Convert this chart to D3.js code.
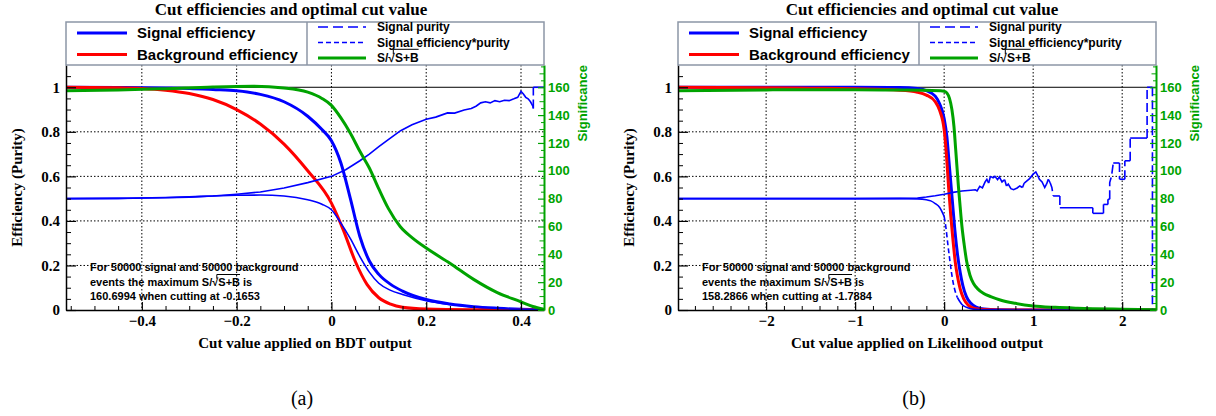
<!DOCTYPE html>
<html>
<head>
<meta charset="utf-8">
<script src="https://cdn.jsdelivr.net/npm/d3@7"></script>
<style>
  body { margin: 0; background: #fff; }
  svg { display: block; }
</style>
</head>
<body>
<svg id="chart" width="1216" height="416"></svg>
<script>
// tick values
var bdtTicks = [-0.4, -0.2, 0, 0.2, 0.4];
var likTicks = [-2, -1, 0, 1, 2];
var effTicks = [0, 0.2, 0.4, 0.6, 0.8, 1];
var sigTicks = [0, 20, 40, 60, 80, 100, 120, 140, 160];

var legendLeft = ["Signal efficiency", "Background efficiency"];
var legendRight = ["Signal purity", "Signal efficiency*purity", "S/\u221AS+B"];

// ---- BDT panel (a) ----
var bdtSigEff = [[-0.56,1],[-0.45,0.999],[-0.35,0.997],[-0.3,0.995],[-0.25,0.99],[-0.2,0.984],[-0.15,0.968],[-0.1,0.935],[-0.05,0.87],[-0.02,0.81],[0,0.76],[0.02,0.66],[0.04,0.5],[0.06,0.33],[0.08,0.22],[0.1,0.16],[0.125,0.115],[0.15,0.085],[0.2,0.047],[0.25,0.027],[0.3,0.015],[0.35,0.008],[0.4,0.003],[0.4485,0.001]];
var bdtBkgEff = [[-0.56,1],[-0.45,0.998],[-0.4,0.995],[-0.35,0.987],[-0.3,0.972],[-0.25,0.945],[-0.2,0.9],[-0.15,0.835],[-0.1,0.745],[-0.05,0.625],[0,0.48],[0.025,0.36],[0.05,0.22],[0.075,0.115],[0.1,0.055],[0.125,0.026],[0.15,0.012],[0.2,0.004],[0.3,0.001],[0.4485,0]];
var bdtPurity = [[-0.56,0.5],[-0.45,0.501],[-0.35,0.504],[-0.3,0.507],[-0.25,0.512],[-0.2,0.52],[-0.15,0.53],[-0.1,0.548],[-0.05,0.572],[0,0.6],[0.03,0.63],[0.06,0.67],[0.08,0.7],[0.1,0.733],[0.12,0.765],[0.146,0.805],[0.17,0.832],[0.2,0.856],[0.22,0.866],[0.245,0.885],[0.26,0.884],[0.28,0.898],[0.295,0.905],[0.305,0.915],[0.315,0.93],[0.325,0.935],[0.335,0.93],[0.345,0.94],[0.355,0.935],[0.365,0.942],[0.375,0.94],[0.385,0.948],[0.393,0.955],[0.4,0.982],[0.405,0.97],[0.41,0.955],[0.415,0.948],[0.42,0.935],[0.425,0.915],[0.426,0.905],[0.426,1],[0.4485,1]];
var bdtEffPur = [[-0.56,0.5],[-0.45,0.501],[-0.35,0.505],[-0.3,0.508],[-0.25,0.512],[-0.2,0.515],[-0.15,0.516],[-0.1,0.512],[-0.05,0.495],[-0.02,0.475],[0,0.45],[0.02,0.39],[0.04,0.32],[0.06,0.24],[0.08,0.17],[0.1,0.12],[0.125,0.088],[0.15,0.07],[0.2,0.042],[0.25,0.025],[0.3,0.014],[0.35,0.007],[0.4,0.003],[0.4485,0.001]];
var bdtSignif = [[-0.56,157.5],[-0.45,158],[-0.35,159],[-0.25,160.2],[-0.165,160.7],[-0.1,159.5],[-0.05,156.5],[-0.02,152],[0,147],[0.02,138],[0.04,127],[0.06,114],[0.08,102],[0.1,87],[0.12,73],[0.145,60],[0.17,52],[0.2,44.5],[0.25,33.6],[0.3,22],[0.35,12.5],[0.4,5.9],[0.425,2.5],[0.4485,0.5]];
var bdtNote = ["For 50000 signal and 50000 background", "events the maximum S/\u221AS+B is", "160.6994 when cutting at -0.1653"];

// ---- Likelihood panel (b) ----
var likSigEff = [[-2.99,1],[-1,1],[-0.5,0.999],[-0.3,0.995],[-0.2,0.985],[-0.1,0.96],[-0.05,0.925],[0,0.86],[0.03,0.78],[0.06,0.64],[0.09,0.5],[0.12,0.36],[0.15,0.25],[0.18,0.17],[0.21,0.11],[0.25,0.06],[0.3,0.03],[0.36,0.013],[0.45,0.004],[0.6,0.001],[1,0],[2.38,0]];
var likBkgEff = [[-2.99,1],[-2,0.998],[-1.5,0.996],[-1,0.993],[-0.5,0.987],[-0.3,0.978],[-0.2,0.965],[-0.1,0.935],[-0.05,0.895],[0,0.81],[0.025,0.7],[0.05,0.55],[0.075,0.42],[0.1,0.31],[0.125,0.215],[0.15,0.15],[0.18,0.095],[0.22,0.05],[0.27,0.022],[0.33,0.008],[0.4,0.003],[0.5,0.001],[0.7,0],[2.38,0]];
var likPurity = [[-2.99,0.5],[-1,0.5],[-0.5,0.501],[-0.3,0.503],[-0.2,0.507],[-0.1,0.513],[0,0.52],[0.1,0.528],[0.2,0.534],[0.3,0.538],[0.35,0.54],[0.37,0.535],[0.4,0.555],[0.43,0.548],[0.46,0.575],[0.48,0.587],[0.5,0.57],[0.52,0.6],[0.55,0.594],[0.57,0.6],[0.6,0.585],[0.62,0.598],[0.65,0.575],[0.68,0.585],[0.7,0.557],[0.72,0.565],[0.75,0.545],[0.78,0.54],[0.82,0.548],[0.85,0.557],[0.88,0.55],[0.9,0.57],[0.93,0.58],[0.96,0.59],[1,0.61],[1.03,0.62],[1.05,0.605],[1.07,0.587],[1.1,0.575],[1.13,0.55],[1.15,0.565],[1.17,0.587],[1.19,0.572],[1.21,0.55],[1.225,0.512],[1.3,0.512],[1.3,0.459],[1.67,0.459],[1.67,0.434],[1.79,0.434],[1.79,0.474],[1.84,0.474],[1.84,0.497],[1.86,0.497],[1.86,0.572],[1.88,0.6],[1.9,0.66],[1.97,0.66],[1.97,0.587],[2.03,0.587],[2.03,0.67],[2.09,0.67],[2.09,0.772],[2.28,0.772],[2.28,1],[2.34,1],[2.34,0],[2.38,0]];
var likEffPur = [[-2.99,0.5],[-1,0.5],[-0.5,0.5],[-0.3,0.499],[-0.2,0.495],[-0.15,0.49],[-0.1,0.478],[-0.05,0.46],[0,0.42],[0.02,0.37],[0.04,0.3],[0.06,0.235],[0.08,0.175],[0.1,0.125],[0.12,0.09],[0.15,0.055],[0.2,0.025],[0.25,0.012],[0.3,0.006],[0.4,0.002],[0.6,0.0005],[1,0],[2.38,0]];
var likSignif = [[-2.99,157.5],[-2,158.1],[-1.79,158.3],[-1,158.2],[-0.5,158],[-0.2,157.8],[0,157.2],[0.03,156],[0.06,152],[0.087,144],[0.11,132],[0.13,115],[0.16,89],[0.18,74],[0.2,60],[0.225,47],[0.25,36],[0.29,25],[0.33,19],[0.38,15],[0.44,12],[0.53,9.5],[0.63,7.2],[0.8,4.8],[1,2.9],[1.25,1.9],[1.5,1.3],[2,0.6],[2.38,0.2]];
var likNote = ["For 50000 signal and 50000 background", "events the maximum S/\u221AS+B is", "158.2866 when cutting at -1.7884"];


var svg = d3.select("#chart");

var PW = 478, PH = 245, PT = 65, PL = 66;
var blue = "#0000ff", red = "#ff0000", green = "#00a300";
var serif = '"Liberation Serif","Times New Roman",serif';
var sans = '"Liberation Sans",Arial,Helvetica,sans-serif';

// draws a curve; with a dash pattern only the steep pieces get dashed (like ROOT's per-bin dashes)
function drawCurve(g, pts, x, y, color, width, dash, smooth) {
    var line = d3.line().x(function (d) { return x(d[0]); }).y(function (d) { return y(d[1]); });
    if (smooth) line.curve(d3.curveMonotoneX);
    if (!dash) {
        g.append("path").datum(pts).attr("d", line)
            .attr("fill", "none").attr("stroke", color).attr("stroke-width", width);
        return;
    }
    var runs = [], cur = [pts[0]], curSteep = null;
    for (var i = 1; i < pts.length; i++) {
        var dx = Math.abs(x(pts[i][0]) - x(pts[i - 1][0]));
        var dy = Math.abs(y(pts[i][1]) - y(pts[i - 1][1]));
        var steep = dy > 2.5 * dx && dy > 3;
        if (curSteep === null || steep === curSteep) { cur.push(pts[i]); curSteep = steep; }
        else { runs.push({ pts: cur, steep: curSteep }); cur = [pts[i - 1], pts[i]]; curSteep = steep; }
    }
    runs.push({ pts: cur, steep: curSteep });
    runs.forEach(function (r) {
        g.append("path").datum(r.pts).attr("d", line)
            .attr("fill", "none").attr("stroke", color).attr("stroke-width", width)
            .attr("stroke-dasharray", r.steep ? dash : null);
    });
}

// S/sqrt(S+B): put an overline over the radicand
function radicalBar(g, textNode, idx, lift) {
    var node = textNode.node();
    var str = node.textContent;
    var x0 = +textNode.attr("x"), yb = +textNode.attr("y");
    var a = node.getSubStringLength(0, idx) + node.getSubStringLength(idx, 1) * 0.75;
    var b = node.getSubStringLength(0, Math.min(idx + 4, str.length));
    g.append("line").attr("x1", x0 + a).attr("x2", x0 + a)
        .attr("y1", yb - lift * 0.62).attr("y2", yb - lift)
        .attr("stroke", "#000").attr("stroke-width", 1);
    g.append("line").attr("x1", x0 + a).attr("x2", x0 + b)
        .attr("y1", yb - lift).attr("y2", yb - lift)
        .attr("stroke", "#000").attr("stroke-width", 1);
}

function drawPanel(ox, cfg) {
    var x = d3.scaleLinear().domain(cfg.xDomain).range([0, PW]);
    var y = d3.scaleLinear().domain([0, 1.1]).range([PH, 0]);
    var ys = d3.scaleLinear().domain([0, 176]).range([PH, 0]);

    // title
    svg.append("text").attr("x", cfg.titleX).attr("y", 15)
        .attr("text-anchor", "middle").attr("font-family", serif).attr("font-weight", "bold")
        .attr("font-size", "17px").text("Cut efficiencies and optimal cut value");

    var g = svg.append("g").attr("transform", "translate(" + (ox + PL) + "," + PT + ")");

    var clipId = "clip" + ox;
    g.append("clipPath").attr("id", clipId).append("rect")
        .attr("x", 0).attr("y", -1).attr("width", PW).attr("height", PH + 1);

    // grid
    g.selectAll(".gx").data(cfg.ticks).enter().append("line")
        .attr("x1", function (d) { return x(d); }).attr("x2", function (d) { return x(d); })
        .attr("y1", 0).attr("y2", PH)
        .attr("stroke", "#000").attr("stroke-width", 1).attr("stroke-dasharray", "1.5,2");
    g.selectAll(".gy").data(effTicks.filter(function (d) { return d > 0 && d < 1; })).enter().append("line")
        .attr("x1", 0).attr("x2", PW)
        .attr("y1", function (d) { return y(d); }).attr("y2", function (d) { return y(d); })
        .attr("stroke", "#000").attr("stroke-width", 1).attr("stroke-dasharray", "1.5,2");
    g.append("line").attr("x1", 0).attr("x2", PW).attr("y1", y(1)).attr("y2", y(1))
        .attr("stroke", "#000").attr("stroke-width", 1);

    // curves
    var cg = g.append("g").attr("clip-path", "url(#" + clipId + ")");
    drawCurve(cg, cfg.sigEff, x, y, blue, 3, null, true);
    drawCurve(cg, cfg.bkgEff, x, y, red, 3, null, true);
    drawCurve(cg, cfg.purity, x, y, blue, 1.6, "9,4", false);
    drawCurve(cg, cfg.effPur, x, y, blue, 1.6, "5,3", true);
    drawCurve(cg, cfg.signif, x, ys, green, 3, null, true);

    // bottom axis
    var minorX = cfg.minor.filter(function (v) {
        return !cfg.ticks.some(function (t) { return Math.abs(t - v) < 1e-6; });
    });
    g.append("g").attr("transform", "translate(0," + PH + ")")
        .call(d3.axisBottom(x).tickValues(minorX).tickSize(-4).tickFormat(""))
        .call(function (a) { a.select(".domain").remove(); a.selectAll("line").attr("stroke", "#000"); });
    var xa = g.append("g").attr("transform", "translate(0," + PH + ")")
        .call(d3.axisBottom(x).tickValues(cfg.ticks).tickSizeInner(-8).tickSizeOuter(0)
            .tickPadding(5).tickFormat(d3.format("")));
    xa.select(".domain").attr("stroke", "#000").attr("stroke-width", 1.5);
    xa.selectAll("line").attr("stroke", "#000").attr("stroke-width", 1.2);
    xa.selectAll("text").attr("font-family", serif).attr("font-weight", "bold")
        .attr("font-size", "15px").attr("fill", "#000");

    // left axis
    var minorY = d3.range(0.05, 1.1, 0.05).filter(function (v) { return Math.abs(v * 5 - Math.round(v * 5)) > 1e-6; });
    g.append("g")
        .call(d3.axisLeft(y).tickValues(minorY).tickSize(-5).tickFormat(""))
        .call(function (a) { a.select(".domain").remove(); a.selectAll("line").attr("stroke", "#000"); });
    var ya = g.append("g")
        .call(d3.axisLeft(y).tickValues(effTicks).tickSizeInner(-10).tickSizeOuter(0)
            .tickPadding(6).tickFormat(d3.format("")));
    ya.select(".domain").attr("stroke", "#000").attr("stroke-width", 1.5);
    ya.selectAll("line").attr("stroke", "#000").attr("stroke-width", 1.2);
    ya.selectAll("text").attr("font-family", serif).attr("font-weight", "bold")
        .attr("font-size", "15px").attr("fill", "#000");

    // right significance axis
    var rg = g.append("g").attr("transform", "translate(" + PW + ",0)");
    rg.append("g")
        .call(d3.axisRight(ys).tickValues(d3.range(5, 176, 10)).tickSize(-3).tickFormat(""))
        .call(function (a) { a.select(".domain").remove(); a.selectAll("line").attr("stroke", green); });
    rg.append("g")
        .call(d3.axisRight(ys).tickValues(d3.range(10, 176, 20)).tickSize(-4.5).tickFormat(""))
        .call(function (a) { a.select(".domain").remove(); a.selectAll("line").attr("stroke", green); });
    var sa = rg.append("g")
        .call(d3.axisRight(ys).tickValues(sigTicks).tickSizeInner(-6).tickSizeOuter(0).tickPadding(4));
    sa.select(".domain").attr("stroke", green).attr("stroke-width", 2);
    sa.selectAll("line").attr("stroke", green).attr("stroke-width", 1.2);
    sa.selectAll("text").attr("font-family", sans).attr("font-weight", "bold")
        .attr("font-size", "13px").attr("fill", green);

    // axis titles
    svg.append("text").attr("transform", "translate(" + (ox + 22) + "," + (PT + PH / 2) + ") rotate(-90)")
        .attr("text-anchor", "middle").attr("font-family", serif).attr("font-weight", "bold")
        .attr("font-size", "15px").text("Efficiency (Purity)");
    svg.append("text").attr("transform", "translate(" + (ox + 587) + "," + PT + ") rotate(-90)")
        .attr("text-anchor", "end").attr("font-family", sans).attr("font-weight", "bold")
        .attr("font-size", "13px").attr("fill", green).text("Significance");
    svg.append("text").attr("x", ox + 305).attr("y", 348)
        .attr("text-anchor", "middle").attr("font-family", serif).attr("font-weight", "bold")
        .attr("font-size", "15px").text(cfg.xTitle);
    svg.append("text").attr("x", ox + 302).attr("y", 405)
        .attr("text-anchor", "middle").attr("font-family", serif)
        .attr("font-size", "20px").text(cfg.tag);

    // note
    var ng = svg.append("g");
    cfg.note.forEach(function (s, i) {
        var t = ng.append("text").attr("x", ox + 90).attr("y", 271 + i * 14.5)
            .attr("font-family", sans).attr("font-weight", "bold").attr("font-size", "11px")
            .attr("fill", "#000").text(s);
        if (s.indexOf("\u221A") >= 0) radicalBar(ng, t, s.indexOf("\u221A"), 11);
    });

    // legend
    var lg = g.append("g").attr("transform", "translate(0," + (-43) + ")");
    lg.append("rect").attr("x", 0).attr("y", 0).attr("width", PW).attr("height", 43)
        .attr("fill", "#fff").attr("stroke", "#8c96a6").attr("stroke-width", 1.5);
    lg.append("line").attr("x1", 241).attr("x2", 241).attr("y1", 0).attr("y2", 43)
        .attr("stroke", "#8c96a6").attr("stroke-width", 1.5);
    var leftCols = [blue, red];
    legendLeft.forEach(function (s, i) {
        var cy = 11 + i * 21.5;
        lg.append("line").attr("x1", 11).attr("x2", 61).attr("y1", cy).attr("y2", cy)
            .attr("stroke", leftCols[i]).attr("stroke-width", 3);
        lg.append("text").attr("x", 71).attr("y", cy + 5.3)
            .attr("font-family", sans).attr("font-weight", "bold").attr("font-size", "15px").text(s);
    });
    var rightStyle = [[blue, 1.6, "10,5"], [blue, 1.6, "5,3"], [green, 3, null]];
    legendRight.forEach(function (s, i) {
        var cy = 5 + i * 15.5;
        lg.append("line").attr("x1", 252).attr("x2", 300).attr("y1", cy).attr("y2", cy)
            .attr("stroke", rightStyle[i][0]).attr("stroke-width", rightStyle[i][1])
            .attr("stroke-dasharray", rightStyle[i][2]);
        var t = lg.append("text").attr("x", 311).attr("y", cy + 4.3)
            .attr("font-family", sans).attr("font-weight", "bold").attr("font-size", "12px").text(s);
        if (s.indexOf("\u221A") >= 0) radicalBar(lg, t, s.indexOf("\u221A"), 13);
    });
}

drawPanel(0, {
    xDomain: [-0.56, 0.4485], ticks: bdtTicks, minor: d3.range(-0.55, 0.45, 0.05),
    sigEff: bdtSigEff, bkgEff: bdtBkgEff, purity: bdtPurity, effPur: bdtEffPur, signif: bdtSignif,
    note: bdtNote, xTitle: "Cut value applied on BDT output", tag: "(a)", titleX: 291
});
drawPanel(612, {
    xDomain: [-2.99, 2.38], ticks: likTicks, minor: d3.range(-2.8, 2.4, 0.2),
    sigEff: likSigEff, bkgEff: likBkgEff, purity: likPurity, effPur: likEffPur, signif: likSignif,
    note: likNote, xTitle: "Cut value applied on Likelihood output", tag: "(b)", titleX: 922
});
</script>
</body>
</html>
